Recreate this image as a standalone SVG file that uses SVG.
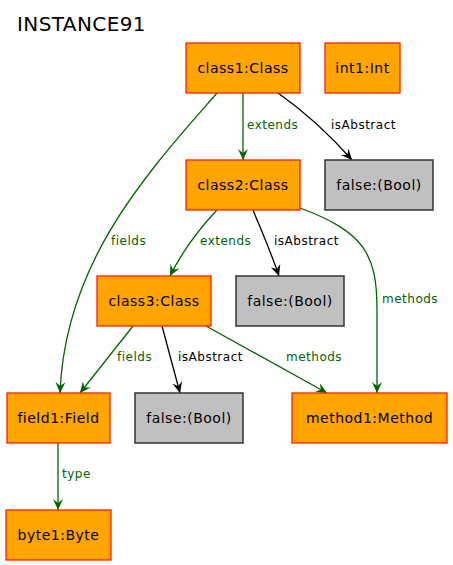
<svg xmlns="http://www.w3.org/2000/svg" width="453" height="565" viewBox="0 0 453 565">
<style>
.n rect{fill:#FFA500;stroke:#FF2000;stroke-width:1.3}
.b rect{fill:#C0C0C0;stroke:#333;stroke-width:1.5}
text{font-family:"DejaVu Sans",sans-serif}
.n text,.b text{font-size:14px;letter-spacing:0.5px;text-anchor:middle;fill:#000}
.g{stroke:#006400;fill:none;stroke-width:1.3}
.k{stroke:#000;fill:none;stroke-width:1.3}
.lg{font-size:12px;letter-spacing:0.5px;fill:#006400}
.lk{font-size:12px;letter-spacing:0.5px;fill:#000}
</style>
<defs>
<marker id="ag" markerWidth="12" markerHeight="12" refX="11" refY="6" orient="auto" markerUnits="userSpaceOnUse"><path d="M0,1 L11,6 L0,11 L4,6 z" fill="#006400"/></marker>
<marker id="ak" markerWidth="12" markerHeight="12" refX="11" refY="6" orient="auto" markerUnits="userSpaceOnUse"><path d="M0,1 L11,6 L0,11 L4,6 z" fill="#000"/></marker>
</defs>
<rect width="453" height="565" fill="#fff"/>
<text x="17" y="30.5" font-size="20" letter-spacing="0.4">INSTANCE91</text>
<g id="edges">
<path class="g" d="M243,93 L243,160" marker-end="url(#ag)"/>
<text class="lg" x="247" y="129">extends</text>
<path class="k" d="M278,93 C305,112 330,135 352,160" marker-end="url(#ak)"/>
<text class="lk" x="331" y="129">isAbstract</text>
<path class="g" d="M217,93 C150,170 65,260 60,393" marker-end="url(#ag)"/>
<text class="lg" x="111" y="245">fields</text>
<path class="g" d="M217,210 C200,228 183,250 170,276" marker-end="url(#ag)"/>
<text class="lg" x="200" y="245">extends</text>
<path class="k" d="M253,210 C262,232 272,255 279,276" marker-end="url(#ak)"/>
<text class="lk" x="274" y="245">isAbstract</text>
<path class="g" d="M300,208 C365,232 377,255 377,310 L377,393" marker-end="url(#ag)"/>
<text class="lg" x="382" y="303">methods</text>
<path class="g" d="M133,326 L80,393" marker-end="url(#ag)"/>
<text class="lg" x="117" y="361">fields</text>
<path class="k" d="M162,326 C168,348 174,370 180,393" marker-end="url(#ak)"/>
<text class="lk" x="178" y="361">isAbstract</text>
<path class="g" d="M206,326 L327,393" marker-end="url(#ag)"/>
<text class="lg" x="286" y="361">methods</text>
<path class="g" d="M58,443 L58,510" marker-end="url(#ag)"/>
<text class="lg" x="62" y="478">type</text>
</g>
<g id="class1" class="n"><rect x="186" y="43" width="114" height="50"/><text x="243" y="73">class1:Class</text></g>
<g id="int1" class="n"><rect x="325" y="43" width="75" height="50"/><text x="362.5" y="73">int1:Int</text></g>
<g id="class2" class="n"><rect x="186" y="160" width="114" height="50"/><text x="243" y="190">class2:Class</text></g>
<g id="false1" class="b"><rect x="325" y="160" width="108" height="50"/><text x="379" y="190">false:(Bool)</text></g>
<g id="class3" class="n"><rect x="97" y="276" width="114" height="50"/><text x="154" y="306">class3:Class</text></g>
<g id="false2" class="b"><rect x="236" y="276" width="108" height="50"/><text x="290" y="306">false:(Bool)</text></g>
<g id="field1" class="n"><rect x="7" y="393" width="103" height="50"/><text x="58.5" y="423">field1:Field</text></g>
<g id="false3" class="b"><rect x="135" y="393" width="108" height="50"/><text x="189" y="423">false:(Bool)</text></g>
<g id="method1" class="n"><rect x="292" y="393" width="155" height="50"/><text x="369.5" y="423">method1:Method</text></g>
<g id="byte1" class="n"><rect x="6" y="510" width="105" height="50"/><text x="58.5" y="540">byte1:Byte</text></g>
</svg>
